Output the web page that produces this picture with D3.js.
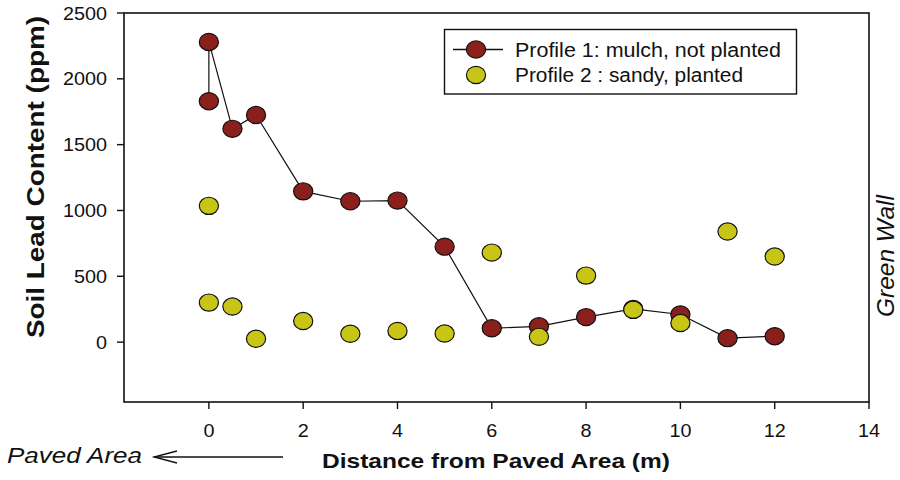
<!DOCTYPE html>
<html>
<head>
<meta charset="utf-8">
<script src="https://cdn.jsdelivr.net/npm/d3@7"></script>
<style>
  html, body { margin: 0; padding: 0; background: #fff; }
  svg { display: block; font-family: "Liberation Sans", Arial, sans-serif; }
</style>
</head>
<body>
<svg id="chart" width="900" height="480"></svg>
<script>
// Profile 1: mulch, not planted (connected in sampling order)
const p1Distance = [0, 0, 0.5, 1, 2, 3, 4, 5, 6, 7, 8, 9, 10, 11, 12];
const p1Lead     = [1830, 2280, 1620, 1725, 1145, 1070, 1075, 725, 105, 120, 190, 252, 210, 30, 45];

// Profile 2: sandy, planted (points only)
const p2Distance = [0, 0, 0.5, 1, 2, 3, 4, 5, 6, 7, 8, 9, 10, 11, 12];
const p2Lead     = [1035, 300, 270, 25, 160, 63, 85, 65, 680, 40, 505, 245, 145, 840, 650];

const xTicks = [0, 2, 4, 6, 8, 10, 12, 14];
const yTicks = [0, 500, 1000, 1500, 2000, 2500];

const seriesNames = ["Profile 1: mulch, not planted", "Profile 2 : sandy, planted"];
const seriesColors = ["#8b1f1b", "#c8c516"];

const svg = d3.select("#chart");
const plotL = 124, plotR = 869, plotT = 13, plotB = 402;

const x = d3.scaleLinear().domain([-1.8, 14]).range([plotL, plotR]);
const y = d3.scaleLinear().domain([-455, 2500]).range([plotB, plotT]);

const SX = 1.1; // horizontal text stretch
const RX = 9.6, RY = 8.6;

// frame
svg.append("rect")
  .attr("x", plotL).attr("y", plotT)
  .attr("width", plotR - plotL).attr("height", plotB - plotT)
  .attr("fill", "none").attr("stroke", "#111").attr("stroke-width", 1.6);

// x ticks
const gx = svg.append("g");
xTicks.forEach(t => {
  gx.append("line").attr("x1", x(t)).attr("x2", x(t))
    .attr("y1", plotB).attr("y2", plotB + 7)
    .attr("stroke", "#111").attr("stroke-width", 1.4);
  gx.append("text")
    .attr("transform", `translate(${x(t)},437) scale(${SX},1)`)
    .attr("text-anchor", "middle").attr("font-size", 18).attr("fill", "#111")
    .text(t);
});

// y ticks
const gy = svg.append("g");
yTicks.forEach(t => {
  gy.append("line").attr("x1", plotL - 7).attr("x2", plotL)
    .attr("y1", y(t)).attr("y2", y(t))
    .attr("stroke", "#111").attr("stroke-width", 1.4);
  gy.append("text")
    .attr("transform", `translate(107,${y(t) + 6.5}) scale(${SX},1)`)
    .attr("text-anchor", "end").attr("font-size", 18).attr("fill", "#111")
    .text(t);
});

// connecting line for profile 1
const p1 = p1Distance.map((d, i) => [d, p1Lead[i]]);
const p2 = p2Distance.map((d, i) => [d, p2Lead[i]]);

svg.append("path")
  .datum(p1)
  .attr("d", d3.line().x(d => x(d[0])).y(d => y(d[1])))
  .attr("fill", "none").attr("stroke", "#111").attr("stroke-width", 1.2);

svg.append("g").selectAll("ellipse").data(p1).join("ellipse")
  .attr("cx", d => x(d[0])).attr("cy", d => y(d[1]))
  .attr("rx", RX).attr("ry", RY)
  .attr("fill", seriesColors[0]).attr("stroke", "#111").attr("stroke-width", 1.2);

svg.append("g").selectAll("ellipse").data(p2).join("ellipse")
  .attr("cx", d => x(d[0])).attr("cy", d => y(d[1]))
  .attr("rx", RX).attr("ry", RY)
  .attr("fill", seriesColors[1]).attr("stroke", "#111").attr("stroke-width", 1.2);

// legend
const lg = svg.append("g");
lg.append("rect").attr("x", 444.5).attr("y", 29.5).attr("width", 352).attr("height", 64.5)
  .attr("fill", "#fff").attr("stroke", "#111").attr("stroke-width", 1.4);
const rowsY = [49.5, 75];
const legendWidths = [266, 228];
lg.append("line").attr("x1", 453).attr("x2", 503).attr("y1", rowsY[0]).attr("y2", rowsY[0])
  .attr("stroke", "#111").attr("stroke-width", 1.3);
seriesNames.forEach((name, i) => {
  lg.append("ellipse").attr("cx", 476).attr("cy", rowsY[i]).attr("rx", RX).attr("ry", RY)
    .attr("fill", seriesColors[i]).attr("stroke", "#111").attr("stroke-width", 1.2);
  lg.append("text")
    .attr("x", 515).attr("y", rowsY[i] + 7)
    .attr("font-size", 19.5).attr("fill", "#111")
    .attr("textLength", legendWidths[i]).attr("lengthAdjust", "spacingAndGlyphs")
    .text(name);
});

// axis titles
svg.append("text")
  .attr("x", 496).attr("y", 468)
  .attr("text-anchor", "middle").attr("font-size", 21).attr("font-weight", "bold").attr("fill", "#111")
  .attr("textLength", 348).attr("lengthAdjust", "spacingAndGlyphs")
  .text("Distance from Paved Area (m)");

svg.append("text")
  .attr("transform", "translate(44,177) rotate(-90)")
  .attr("text-anchor", "middle").attr("font-size", 23).attr("font-weight", "bold").attr("fill", "#111")
  .attr("textLength", 322).attr("lengthAdjust", "spacingAndGlyphs")
  .text("Soil Lead Content (ppm)");

// side annotations
svg.append("text")
  .attr("transform", "translate(894,256) rotate(-90)")
  .attr("text-anchor", "middle").attr("font-size", 24).attr("font-style", "italic").attr("fill", "#111")
  .attr("textLength", 122).attr("lengthAdjust", "spacingAndGlyphs")
  .text("Green Wall");

svg.append("text")
  .attr("x", 7).attr("y", 463)
  .attr("font-size", 21.5).attr("font-style", "italic").attr("fill", "#111")
  .attr("textLength", 135).attr("lengthAdjust", "spacingAndGlyphs")
  .text("Paved Area");

svg.append("line").attr("x1", 283).attr("x2", 154).attr("y1", 457).attr("y2", 457)
  .attr("stroke", "#111").attr("stroke-width", 1.3);
svg.append("path").attr("d", "M177,451 L154,457 L177,463")
  .attr("fill", "none").attr("stroke", "#111").attr("stroke-width", 1.3);
</script>
</body>
</html>
